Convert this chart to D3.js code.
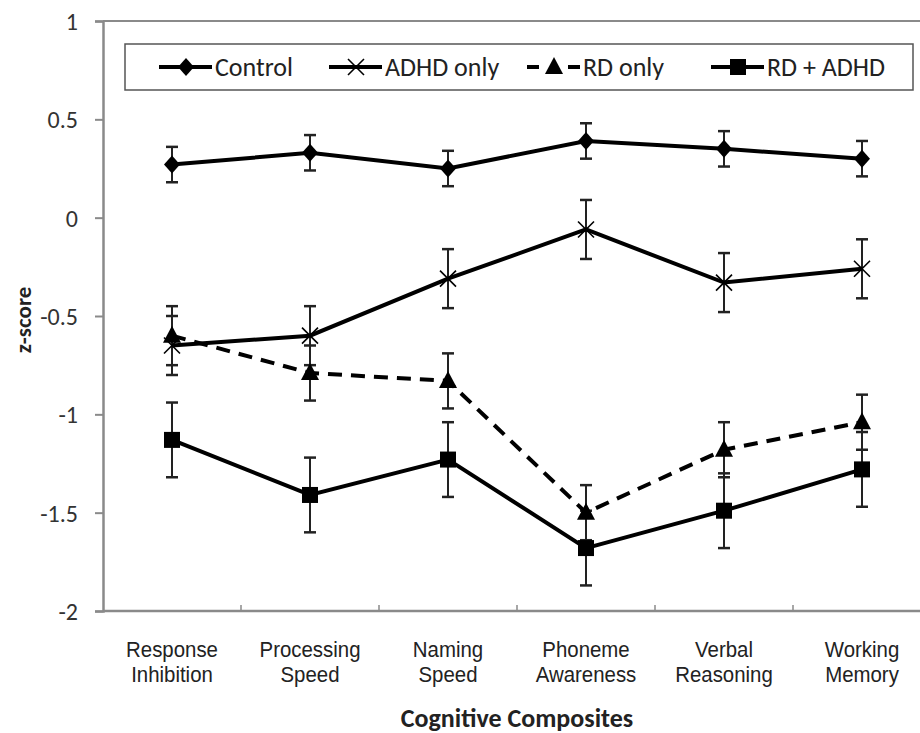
<!DOCTYPE html>
<html>
<head>
<meta charset="utf-8">
<script src="https://cdnjs.cloudflare.com/ajax/libs/d3/7.8.5/d3.min.js"></script>
<style>
  body { margin: 0; background: #fff; }
  svg { display: block; }
</style>
</head>
<body>
<div id="chart"></div>
<script>
const categories = [
  ["Response", "Inhibition"],
  ["Processing", "Speed"],
  ["Naming", "Speed"],
  ["Phoneme", "Awareness"],
  ["Verbal", "Reasoning"],
  ["Working", "Memory"]
]
const yTicks = [1, 0.5, 0, -0.5, -1, -1.5, -2]
const yTickLabels = ["1", "0.5", "0", "-0.5", "-1", "-1.5", "-2"]

const controlMean = [0.27, 0.33, 0.25, 0.39, 0.35, 0.30]
const controlErr = [0.09, 0.09, 0.09, 0.09, 0.09, 0.09]
const adhdMean = [-0.65, -0.60, -0.31, -0.06, -0.33, -0.26]
const adhdErr = [0.15, 0.15, 0.15, 0.15, 0.15, 0.15]
const rdMean = [-0.60, -0.79, -0.83, -1.50, -1.18, -1.04]
const rdErr = [0.15, 0.14, 0.14, 0.14, 0.14, 0.14]
const bothMean = [-1.13, -1.41, -1.23, -1.68, -1.49, -1.28]
const bothErr = [0.19, 0.19, 0.19, 0.19, 0.19, 0.19]

const seriesNames = ["Control", "ADHD only", "RD only", "RD + ADHD"]

const W = 920, H = 733
const svg = d3.select("#chart").append("svg").attr("width", W).attr("height", H)

const x = d3.scalePoint().domain(d3.range(categories.length)).range([103, 931]).padding(0.5)
const y = d3.scaleLinear().domain([-2, 1]).range([611, 21])

const series = [
  { name: seriesNames[0], mean: controlMean, err: controlErr, marker: "diamond", dash: null },
  { name: seriesNames[1], mean: adhdMean, err: adhdErr, marker: "x", dash: null },
  { name: seriesNames[2], mean: rdMean, err: rdErr, marker: "triangle", dash: "14,9" },
  { name: seriesNames[3], mean: bothMean, err: bothErr, marker: "square", dash: null }
]

const axisColor = "#8a8a8a"
const tickFont = "Carlito, Lato, sans-serif"

// top border of the plot area
svg.append("line").attr("x1", 103).attr("x2", 931).attr("y1", y(1)).attr("y2", y(1))
  .attr("stroke", axisColor).attr("stroke-width", 2)

// y axis
const yAxis = svg.append("g").attr("transform", "translate(103,0)")
  .call(d3.axisLeft(y).tickValues(yTicks).tickSize(8).tickFormat((d, i) => yTickLabels[i]))
yAxis.select(".domain").attr("stroke", axisColor).attr("stroke-width", 2.5)
yAxis.selectAll(".tick line").attr("stroke", axisColor).attr("stroke-width", 2)
yAxis.selectAll(".tick text").attr("font-family", tickFont).attr("font-size", 24)
  .attr("fill", "#333").attr("x", -25).attr("dy", "0.36em")

// x axis, boundary ticks point inward
const xAxisG = svg.append("g")
xAxisG.append("line").attr("x1", 103).attr("x2", 931).attr("y1", y(-2)).attr("y2", y(-2))
  .attr("stroke", axisColor).attr("stroke-width", 2.5)
const step = x.step()
xAxisG.selectAll("line.bt").data(d3.range(1, categories.length)).join("line")
  .attr("class", "bt")
  .attr("x1", i => x(i) - step / 2).attr("x2", i => x(i) - step / 2)
  .attr("y1", y(-2)).attr("y2", y(-2) - 6)
  .attr("stroke", axisColor).attr("stroke-width", 1.5)

// category labels, slightly narrowed
xAxisG.selectAll("g.cat").data(categories).join("g")
  .attr("class", "cat")
  .attr("transform", (d, i) => `translate(${x(i)},0) scale(0.95,1)`)
  .each(function (d) {
    const t = d3.select(this).append("text")
      .attr("text-anchor", "middle")
      .attr("font-family", "'Liberation Sans', Arial, sans-serif")
      .attr("font-size", 21.5)
      .attr("fill", "#222")
    d.forEach((line, j) => t.append("tspan").attr("x", 0).attr("y", 657 + j * 25).text(line))
  })

// axis titles
svg.append("text").attr("x", 517).attr("y", 727).attr("text-anchor", "middle")
  .attr("font-family", tickFont).attr("font-weight", "bold").attr("font-size", 26)
  .attr("fill", "#222").text("Cognitive Composites")
svg.append("text").attr("transform", `translate(31,320) rotate(-90)`)
  .attr("text-anchor", "middle")
  .attr("font-family", tickFont).attr("font-weight", "bold").attr("font-size", 23)
  .attr("fill", "#222").text("z-score")

function drawMarker(g, type, cx, cy) {
  if (type === "diamond") {
    g.append("path").attr("d", `M${cx},${cy - 9}L${cx + 8},${cy}L${cx},${cy + 9}L${cx - 8},${cy}Z`).attr("fill", "#000")
  } else if (type === "square") {
    g.append("rect").attr("x", cx - 8).attr("y", cy - 8).attr("width", 16).attr("height", 16).attr("fill", "#000")
  } else if (type === "triangle") {
    g.append("path").attr("d", `M${cx},${cy - 10}L${cx + 9},${cy + 7}L${cx - 9},${cy + 7}Z`).attr("fill", "#000")
  } else if (type === "x") {
    g.append("path").attr("d", `M${cx - 8},${cy - 8}L${cx + 8},${cy + 8}M${cx - 8},${cy + 8}L${cx + 8},${cy - 8}`)
      .attr("stroke", "#000").attr("stroke-width", 1.6).attr("fill", "none")
  }
}

const line = d3.line().x((d, i) => x(i)).y(d => y(d))

// error bars
const errG = svg.append("g")
series.forEach(s => {
  s.mean.forEach((m, i) => {
    const cx = x(i), top = y(m + s.err[i]), bot = y(m - s.err[i])
    errG.append("line").attr("x1", cx).attr("x2", cx).attr("y1", top).attr("y2", bot)
      .attr("stroke", "#222").attr("stroke-width", 2)
    ;[top, bot].forEach(yy => errG.append("line").attr("x1", cx - 6).attr("x2", cx + 6)
      .attr("y1", yy).attr("y2", yy).attr("stroke", "#222").attr("stroke-width", 2.5))
  })
})

// lines and markers
series.forEach(s => {
  const g = svg.append("g")
  g.append("path").datum(s.mean).attr("d", line).attr("fill", "none")
    .attr("stroke", "#000").attr("stroke-width", 4)
    .attr("stroke-dasharray", s.dash)
  s.mean.forEach((m, i) => drawMarker(g, s.marker, x(i), y(m)))
})

// legend
const legend = svg.append("g")
legend.append("rect").attr("x", 125).attr("y", 44).attr("width", 788).attr("height", 46)
  .attr("fill", "#fff").attr("stroke", "#555").attr("stroke-width", 1.5)
const legendTextX = [215, 385, 583, 767]
const ly = 67
series.forEach((s, i) => {
  const tx = legendTextX[i]
  const g = legend.append("g")
  g.append("line").attr("x1", tx - 56).attr("x2", tx - 3).attr("y1", ly).attr("y2", ly)
    .attr("stroke", "#000").attr("stroke-width", 4).attr("stroke-dasharray", s.dash ? "12,29,12" : null)
  drawMarker(g, s.marker, tx - 29, ly)
  g.append("text").attr("x", tx).attr("y", ly).attr("dy", "0.36em")
    .attr("font-family", tickFont).attr("font-size", 26).attr("fill", "#222").text(s.name)
})
</script>
</body>
</html>
